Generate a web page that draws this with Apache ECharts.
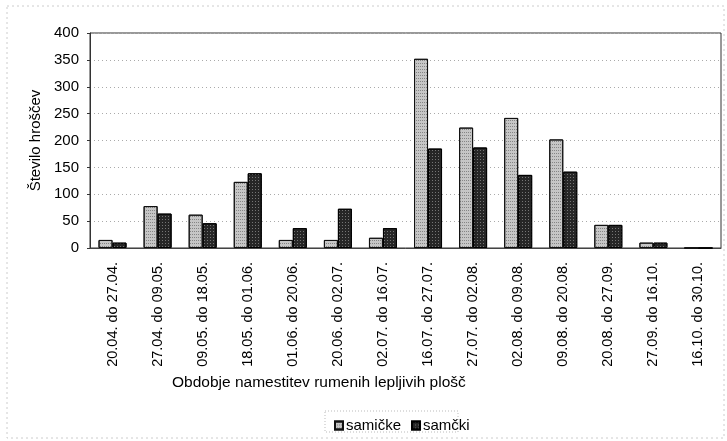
<!DOCTYPE html>
<html><head><meta charset="utf-8">
<script src="https://cdn.jsdelivr.net/npm/echarts@6/dist/echarts.min.js"></script>
<style>html,body{margin:0;padding:0;background:#fff}#c{width:727px;height:441px}</style>
</head><body><div id="c"></div>
<script>
const categories = ["20.04. do 27.04.","27.04. do 09.05.","09.05. do 18.05.","18.05. do 01.06.","01.06. do 20.06.","20.06. do 02.07.","02.07. do 16.07.","16.07. do 27.07.","27.07. do 02.08.","02.08. do 09.08.","09.08. do 20.08.","20.08. do 27.09.","27.09. do 16.10.","16.10. do 30.10."];
const samicke = [15, 78, 62, 123, 15, 15, 19, 352, 224, 242, 202, 43, 10, 0];
const samcki = [10, 64, 46, 139, 37, 73, 37, 185, 187, 136, 142, 43, 10, 0];
const yTicks = [0, 50, 100, 150, 200, 250, 300, 350, 400];

const font = 'Liberation Sans, Arial, sans-serif';
const chart = echarts.init(document.getElementById('c'), null, {renderer: 'canvas'});
chart.setOption({
  animation: false,
  backgroundColor: '#fff',
  textStyle: {fontFamily: font},
  aria: {enabled: true, decal: {show: true}},
  grid: {left: 90, right: 6, top: 33, bottom: 193, show: true, borderColor: '#333', borderWidth: 1},
  xAxis: {
    type: 'category', data: categories,
    axisLine: {lineStyle: {color: '#444', width: 1}},
    axisTick: {show: false},
    axisLabel: {rotate: 90, color: '#000', fontSize: 14.5, margin: 14, interval: 0, fontFamily: font}
  },
  yAxis: {
    type: 'value', min: yTicks[0], max: yTicks[yTicks.length - 1], interval: 50,
    name: 'Število hroščev', nameLocation: 'middle', nameGap: 47, nameRotate: 90,
    nameTextStyle: {color: '#000', fontSize: 15, fontFamily: font},
    axisLine: {show: true, lineStyle: {color: '#333'}},
    axisTick: {show: true, length: 3, lineStyle: {color: '#333'}},
    axisLabel: {color: '#000', fontSize: 15, margin: 11, fontFamily: font},
    splitLine: {lineStyle: {color: '#aaa', type: [1, 3], width: 1}}
  },
  legend: {
    show: true, left: 329, top: 413, itemWidth: 8, itemHeight: 8, itemGap: 10,
    icon: 'rect', textStyle: {color: '#000', fontSize: 15, fontFamily: font, padding: [0, 0, 0, -2]},
    data: ['samičke', 'samčki']
  },
  graphic: [
    {type: 'rect', shape: {x: 7, y: 6, width: 717, height: 432}, style: {fill: 'none', stroke: '#ccc', lineDash: [2, 3], lineWidth: 1}, silent: true},
    {type: 'rect', shape: {x: 325, y: 411, width: 133, height: 21}, style: {fill: 'none', stroke: '#bbb', lineDash: [1, 2], lineWidth: 1}, silent: true},
    {type: 'text', left: 172, top: 375, style: {text: 'Obdobje namestitev rumenih lepljivih plošč', fill: '#000', font: '15.5px ' + font}}
  ],
  series: [
    {name: 'samičke', type: 'bar', data: samicke, barWidth: 14, barGap: '0%', barCategoryGap: '40%',
     itemStyle: {color: '#c6c6c6', borderColor: '#111', borderWidth: 1,
       decal: {symbol: 'rect', symbolSize: 1, dashArrayX: [1, 1], dashArrayY: [1, 2], color: 'rgba(80,80,80,0.55)', rotation: 0}}},
    {name: 'samčki', type: 'bar', data: samcki, barWidth: 14, barGap: '0%', barCategoryGap: '40%',
     itemStyle: {color: '#262626', borderColor: '#000', borderWidth: 1,
       decal: {symbol: 'rect', symbolSize: 1, dashArrayX: [1, 2], dashArrayY: [1, 2], color: 'rgba(170,170,170,0.6)', rotation: 0}}}
  ]
});
</script></body></html>
